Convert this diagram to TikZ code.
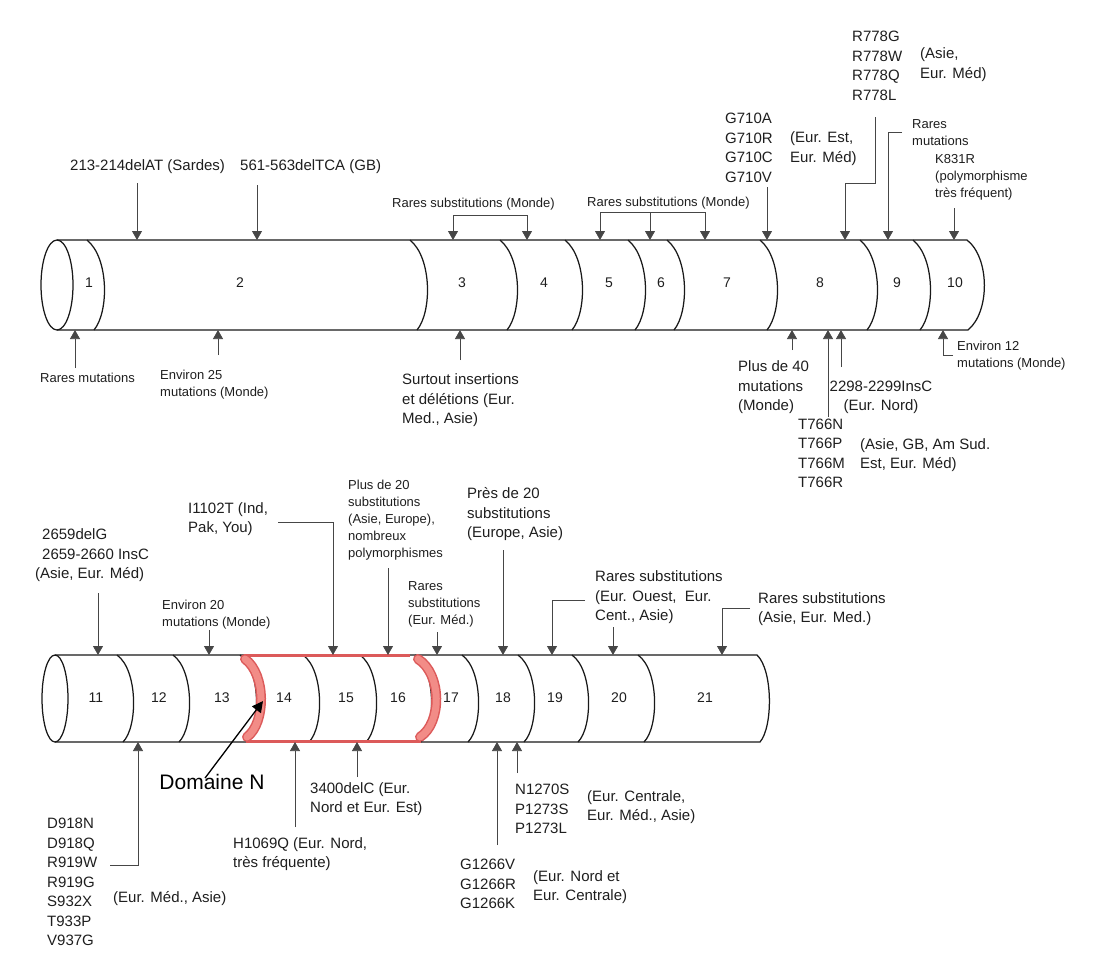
\documentclass[tikz,border=0pt]{standalone}
\usepackage{fontspec}
\setmainfont{Liberation Sans}
\usepackage{tikz}
\usetikzlibrary{arrows.meta,calc}
\definecolor{txtgray}{RGB}{30,30,30}
\definecolor{stemgray}{RGB}{70,70,70}
\definecolor{domainred}{RGB}{220,90,90}
\definecolor{domainpink}{RGB}{242,140,135}

\begin{document}
\begin{tikzpicture}[x=1pt, y=-1pt, >={Triangle[width=10pt,length=9pt]},
  big/.style={font=\fontsize{15}{19.5}\selectfont, text=txtgray, align=left, inner sep=0pt, anchor=base west},
  small/.style={font=\fontsize{13}{17}\selectfont, text=txtgray, align=left, inner sep=0pt, anchor=base west},
  hit/.style={draw=stemgray, line width=0.75pt, ->},
  seg/.style={draw=black!90, line width=1.25pt}]
  \useasboundingbox (0,0) rectangle (1098,956);

  % exons 1 to 10
  \draw[seg] (57,240) -- (967,240) .. controls (990,258) and (990,312) .. (968,330) -- (57,330);
  \draw[seg] (57,285) ellipse [x radius=16pt, y radius=45pt];
  \foreach \s in {87,410,500,565,628,667,760,860,913}
    \draw[seg] (\s,240) .. controls (\s+22,258) and (\s+22,312) .. (\s+7,330);
  \foreach \n/\x in {1/89,2/240,3/462,4/544,5/609,6/661,7/727,8/820,9/897,10/955}
    \node[font=\fontsize{14}{16}\selectfont, text=txtgray] (e\n) at (\x,283) {\n};

  % exons 11 to 21
  \draw[seg] (55,655) -- (757,655) .. controls (773,670) and (773,727) .. (760,742) -- (55,742);
  \draw[seg] (55,698.5) ellipse [x radius=13pt, y radius=43.5pt];
  \foreach \s in {117,173,240,303,360,415,462,518,572,638}
    \draw[seg] (\s,655) .. controls (\s+21,670) and (\s+21,727) .. (\s+6,742);
  \draw[domainred, line width=3pt] (244,655) -- (410,655);
  \draw[domainred, line width=3pt] (246,741.5) -- (421,741.5);
  \foreach \s/\b in {242/24,415/27} {
    \draw[domainred, line width=10pt, line cap=round] (\s+3,659) .. controls (\s+\b,674) and (\s+\b,723) .. (\s+5,737);
    \draw[domainpink, line width=7pt, line cap=round] (\s+3,659) .. controls (\s+\b,674) and (\s+\b,723) .. (\s+5,737);
  }
  \foreach \n/\x in {11/96,12/159,13/222,14/284,15/346,16/398,17/451,18/503,19/555,20/619,21/705}
    \node[font=\fontsize{14}{16}\selectfont, text=txtgray] (e\n) at (\x,698) {\n};

  \foreach \n/\x in {sa/137,sb/257,sc/453,sd/527,se/600,sf/650,sg/705,sh/767,si/845,sj/888,sk/954}
    \coordinate (\n) at (\x,240);
  \foreach \n/\x in {ba/75,bb/218,bc/460,bd/792,be/828,bf/841,bg/943}
    \coordinate (\n) at (\x,330);
  \foreach \n/\x in {ta/98,tb/209,tc/333,td/388,te/437,tf/503,tg/552,th/613,ti/722}
    \coordinate (\n) at (\x,655);
  \foreach \n/\x in {ua/138,ub/295,uc/357,ud/497,ue/517}
    \coordinate (\n) at (\x,742);
  \coordinate (dn) at (263,701);

  \node[big] (sardes) at (70,170) {213-214delAT (Sardes)};
  \node[big] (gb) at (240,170) {561-563delTCA (GB)};
  \node[small] (rs3) at (392,207) {Rares substitutions (Monde)};
  \node[small] (rs5) at (587,206) {Rares substitutions (Monde)};
  \node[big] (g710) at (725,182) {G710A\\G710R\\G710C\\G710V};
  \node[big] (g710reg) at (790,162) {(Eur. Est,\\Eur. Méd)};
  \node[big] (r778) at (852,100) {R778G\\R778W\\R778Q\\R778L};
  \node[big] (r778reg) at (920,78) {(Asie,\\Eur. Méd)};
  \node[small] (rm9) at (912,145.5) {Rares\\mutations};
  \node[small] (k831) at (935,197.5) {K831R\\(polymorphisme\\très fréquent)};
  \node[small] (rm1) at (40,382) {Rares mutations};
  \node[small] (env25) at (160,396.5) {Environ 25\\mutations (Monde)};
  \node[big] (surtout) at (402,423.5) {Surtout insertions\\et délétions (Eur.\\Med., Asie)};
  \node[big] (plus40) at (738,410.5) {Plus de 40\\mutations\\(Monde)};
  \node[big, align=center, anchor=base] (ins2298) at (881,410.5) {2298-2299InsC\\(Eur. Nord)};
  \node[big] (t766) at (798,487.5) {T766N\\T766P\\T766M\\T766R};
  \node[big] (t766reg) at (860,468.5) {(Asie, GB, Am Sud.\\Est, Eur. Méd)};
  \node[small] (env12) at (957,367.5) {Environ 12\\mutations (Monde)};

  \node[big] (g2659) at (42,578.5) {2659delG\\2659-2660 InsC\\\hspace*{-7pt}(Asie, Eur. Méd)};
  \node[small] (env20) at (162,626.5) {Environ 20\\mutations (Monde)};
  \node[big] (i1102) at (188,532.5) {I1102T (Ind,\\Pak, You)};
  \node[small] (plus20) at (348,557.5) {Plus de 20\\substitutions\\(Asie, Europe),\\nombreux\\polymorphismes};
  \node[small] (rs17) at (408,624.5) {Rares\\substitutions\\(Eur. Méd.)};
  \node[big] (pres20) at (467,537.5) {Près de 20\\substitutions\\(Europe, Asie)};
  \node[big] (rs20) at (595,620.5) {Rares substitutions\\(Eur. Ouest,~ Eur.\\Cent., Asie)};
  \node[big] (rs21) at (758,622.5) {Rares substitutions\\(Asie, Eur. Med.)};
  \node[big] (dmut) at (47,945.5) {D918N\\D918Q\\R919W\\R919G\\S932X\\T933P\\V937G};
  \node[big] (dreg) at (113,902) {(Eur. Méd., Asie)};
  \node[big] (h1069) at (233,867.5) {H1069Q (Eur. Nord,\\très fréquente)};
  \node[big] (d3400) at (310,812.5) {3400delC (Eur.\\Nord et Eur. Est)};
  \node[big] (g1266) at (460,908.5) {G1266V\\G1266R\\G1266K};
  \node[big] (g1266reg) at (533,900.5) {(Eur. Nord et\\Eur. Centrale)};
  \node[big] (n1270) at (515,833.5) {N1270S\\P1273S\\P1273L};
  \node[big] (n1270reg) at (587,820.5) {(Eur. Centrale,\\Eur. Méd., Asie)};
  \node[font=\fontsize{21}{25}\selectfont, inner sep=0pt] (domaine) at (212,782) {Domaine N};

  \draw[hit] ([yshift=57pt]sa) -- (sa);
  \draw[hit] ([yshift=55pt]sb) -- (sb);
  \draw[hit, <->] (sc) -- ([yshift=25pt]sc) -| (sd);
  \draw[hit, <->] (se) -- ([yshift=28pt]se) -| (sg);
  \draw[hit] ([yshift=28pt]sf) -- (sf);
  \draw[hit] ([yshift=53pt]sh) -- (sh);
  \draw[hit] ([shift={(30pt,123pt)}]si) |- ([yshift=57pt]si) -- (si);
  \draw[hit] ([shift={(14pt,108pt)}]sj) -| (sj);
  \draw[hit] ([yshift=32pt]sk) -- (sk);

  \draw[hit] ([yshift=-38pt]ba) -- (ba);
  \draw[hit] ([yshift=-25pt]bb) -- (bb);
  \draw[hit] ([yshift=-30pt]bc) -- (bc);
  \draw[hit] ([yshift=-20pt]bd) -- (bd);
  \draw[hit] ([yshift=-87pt]be) -- (be);
  \draw[hit] ([yshift=-37pt]bf) -- (bf);
  \draw[hit] ([shift={(10pt,-25pt)}]bg) -| (bg);

  \draw[hit] ([yshift=62pt]ta) -- (ta);
  \draw[hit] ([yshift=25pt]tb) -- (tb);
  \draw[hit] ([shift={(-55pt,133pt)}]tc) -| (tc);
  \draw[hit] ([yshift=87pt]td) -- (td);
  \draw[hit] ([yshift=23pt]te) -- (te);
  \draw[hit] ([yshift=105pt]tf) -- (tf);
  \draw[hit] ([shift={(33pt,55pt)}]tg) -| (tg);
  \draw[hit] ([yshift=28pt]th) -- (th);
  \draw[hit] ([shift={(28pt,47pt)}]ti) -| (ti);

  \draw[hit] ([shift={(-28pt,-123pt)}]ua) -| (ua);
  \draw[hit] ([yshift=-85pt]ub) -- (ub);
  \draw[hit] ([yshift=-35pt]uc) -- (uc);
  \draw[hit] ([yshift=-103pt]ud) -- (ud);
  \draw[hit] ([yshift=-31pt]ue) -- (ue);

  \draw[black, line width=1.3pt, -{Triangle[width=11pt,length=11pt]}] ([shift={(-7pt,-4pt)}]domaine.north) -- (dn);
\end{tikzpicture}
\end{document}
